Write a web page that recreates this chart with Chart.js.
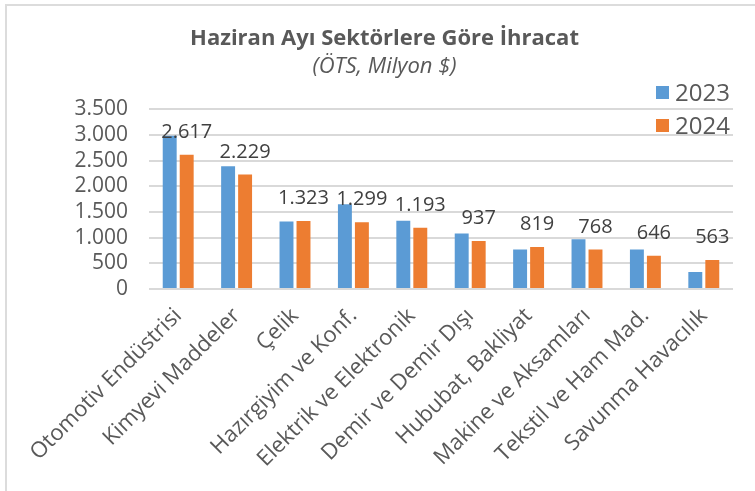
<!DOCTYPE html>
<html>
<head>
<meta charset="utf-8">
<script src="https://cdn.jsdelivr.net/npm/chart.js@4/dist/chart.umd.min.js"></script>
<style>
html,body{margin:0;padding:0;background:#fff;}
#wrap{width:755px;height:491px;position:relative;}
</style>
</head>
<body>
<div id="wrap"><canvas id="c" width="755" height="491"></canvas></div>
<script>
const categories = ["Otomotiv Endüstrisi","Kimyevi Maddeler","Çelik","Hazırgiyim ve Konf.","Elektrik ve Elektronik","Demir ve Demir Dışı","Hububat, Bakliyat","Makine ve Aksamları","Tekstil ve Ham Mad.","Savunma Havacılık"];
const values2023 = [2985, 2390, 1314, 1652, 1328, 1080, 768, 969, 768, 332];
const values2024 = [2617, 2229, 1323, 1299, 1193, 937, 819, 768, 646, 563];
const seriesLabels = ["2023","2024"];
const seriesColors = ["#5b9bd5","#ed7d31"];
const yTicks = [0,500,1000,1500,2000,2500,3000,3500];
const titleText = "Haziran Ayı Sektörlere Göre İhracat";
const subtitleText = "(ÖTS, Milyon $)";

const FONT = "'Open Sans', sans-serif";
const fmt = v => String(Math.round(v)).replace(/\B(?=(\d{3})+(?!\d))/g, '.');

const framePlugin = {
  id: 'frame',
  beforeDraw(chart){
    const ctx = chart.ctx;
    ctx.save();
    ctx.fillStyle = '#fff';
    ctx.fillRect(0,0,chart.width,chart.height);
    ctx.strokeStyle = '#dcdcdc';
    ctx.lineWidth = 2;
    ctx.beginPath();
    ctx.moveTo(6, chart.height);
    ctx.lineTo(6, 5);
    ctx.lineTo(chart.width, 5);
    ctx.stroke();
    ctx.restore();
  }
};

const labelPlugin = {
  id: 'valueLabels',
  afterDatasetsDraw(chart){
    const ctx = chart.ctx;
    const meta = chart.getDatasetMeta(1);
    ctx.save();
    ctx.font = "20px " + FONT;
    ctx.fillStyle = '#404040';
    ctx.textAlign = 'center';
    ctx.textBaseline = 'alphabetic';
    meta.data.forEach((bar, i) => {
      ctx.fillText(fmt(chart.data.datasets[1].data[i]), bar.x, bar.y - 17);
    });
    ctx.restore();
  }
};

const legendPlugin = {
  id: 'customLegend',
  afterDraw(chart){
    const ctx = chart.ctx;
    ctx.save();
    ctx.font = "24px " + FONT;
    ctx.textAlign = 'left';
    ctx.textBaseline = 'alphabetic';
    chart.data.datasets.forEach((ds, i) => {
      const y0 = 86 + i*33;
      ctx.fillStyle = ds.backgroundColor;
      ctx.fillRect(656, y0, 13, 13);
      ctx.fillStyle = '#595959';
      ctx.fillText(ds.label, 675, y0 + 14.5);
    });
    ctx.restore();
  }
};

new Chart(document.getElementById('c'), {
  type: 'bar',
  data: {
    labels: categories,
    datasets: [
      { label: seriesLabels[0], data: values2023, backgroundColor: seriesColors[0], categoryPercentage: 0.582, barPercentage: 0.82 },
      { label: seriesLabels[1], data: values2024, backgroundColor: seriesColors[1], categoryPercentage: 0.582, barPercentage: 0.82 }
    ]
  },
  options: {
    responsive: false,
    animation: false,
    devicePixelRatio: 1,
    layout: { padding: { left: 36, right: 22, top: 0, bottom: 0 } },
    plugins: {
      legend: { display: false },
      tooltip: { enabled: false },
      title: {
        display: true, text: titleText, color: '#595959',
        font: { family: FONT, size: 22, weight: 'bold', lineHeight: 1.2 },
        padding: { top: 26, bottom: 0 }
      },
      subtitle: {
        display: true, text: subtitleText, color: '#595959',
        font: { family: FONT, size: 22, style: 'italic', weight: 'normal', lineHeight: 1.2 },
        padding: { top: 1.5, bottom: 29 }
      }
    },
    scales: {
      x: {
        grid: { display: false, drawTicks: false },
        border: { display: false },
        ticks: {
          color: '#595959', font: { family: FONT, size: 22 },
          minRotation: 45, maxRotation: 45, autoSkip: false, padding: 14
        },
        afterFit(s){ s.height = 202; }
      },
      y: {
        min: 0, max: 3500,
        grid: { color: '#d9d9d9', lineWidth: 2, drawTicks: false },
        border: { display: false },
        afterBuildTicks(s){ s.ticks = yTicks.map(v => ({ value: v })); },
        ticks: {
          color: '#595959', font: { family: FONT, size: 21 }, padding: 21,
          autoSkip: false,
          callback: v => fmt(v)
        },
        afterFit(s){ s.width = 113; }
      }
    }
  },
  plugins: [framePlugin, labelPlugin, legendPlugin]
});
</script>
</body>
</html>
